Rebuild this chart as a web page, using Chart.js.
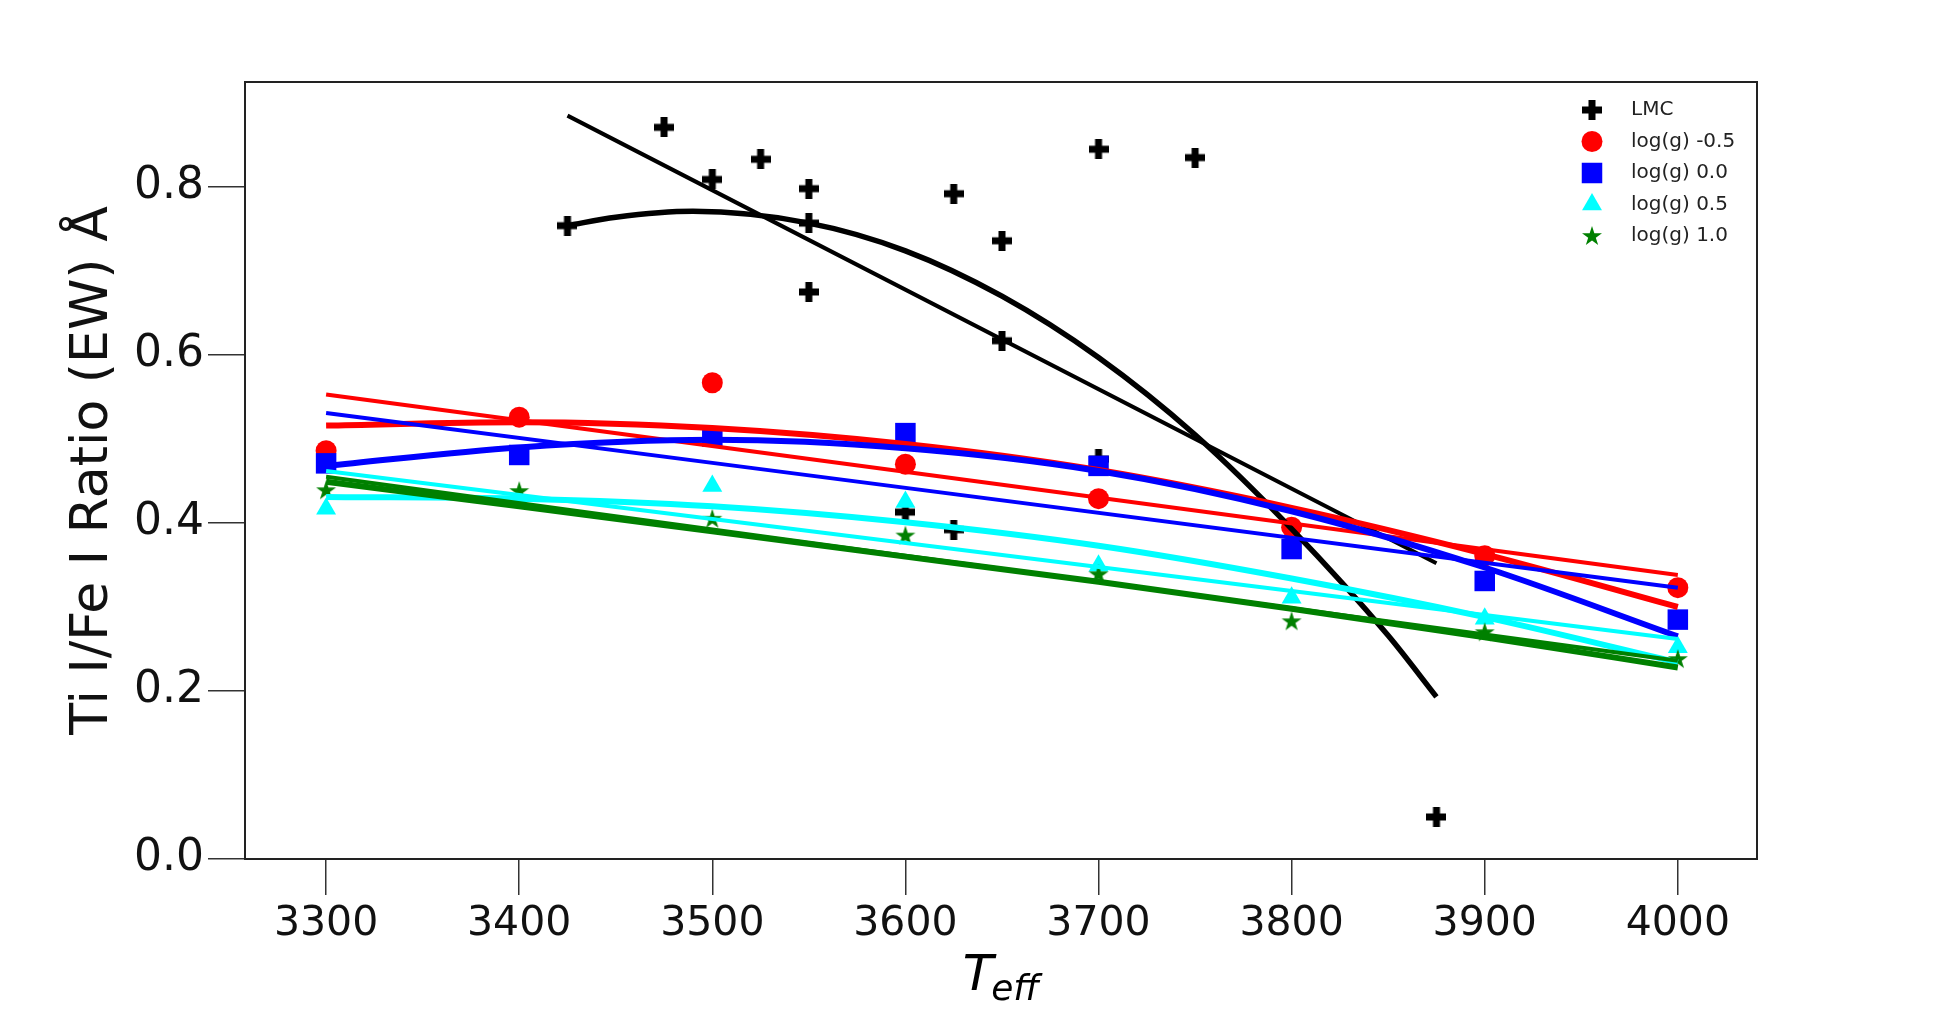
<!DOCTYPE html>
<html><head><meta charset="utf-8">
<script src="https://cdn.jsdelivr.net/npm/chart.js@4/dist/chart.umd.min.js"></script>
<style>html,body{margin:0;padding:0;background:#fff;overflow:hidden}#wrap{width:1952px;height:1012px}</style>
</head><body><div id="wrap"><canvas id="c" width="1952" height="1012"></canvas></div>
<script>
// ---- data ----
const temps = [3300, 3400, 3500, 3600, 3700, 3800, 3900, 4000];
const lmcTeff  = [3425, 3475, 3500, 3525, 3550, 3550, 3550, 3600, 3625, 3625, 3650, 3650, 3700, 3700, 3750, 3875];
const lmcRatio = [0.754, 0.871, 0.809, 0.833, 0.798, 0.757, 0.675, 0.413, 0.792, 0.392, 0.736, 0.617, 0.845, 0.476, 0.835, 0.050];
const loggM05 = [0.486, 0.526, 0.567, 0.470, 0.429, 0.395, 0.361, 0.323];
const logg00  = [0.471, 0.481, 0.503, 0.507, 0.468, 0.369, 0.331, 0.285];
const logg05  = [0.417, 0.426, 0.444, 0.425, 0.349, 0.311, 0.286, 0.252];
const logg10  = [0.439, 0.438, 0.405, 0.385, 0.339, 0.283, 0.270, 0.238];

// fit lines
const lmcLinX = [3425, 3875];
const lmcLinY = [0.885, 0.352];
const lmcQuadX = [3425, 3450, 3490, 3550, 3600, 3650, 3700, 3750, 3800, 3850, 3875];
const lmcQuadY = [0.754, 0.764, 0.771, 0.757, 0.724, 0.670, 0.597, 0.505, 0.393, 0.266, 0.193];
const linX = [3300, 4000];
const m05Lin = [0.553, 0.338];
const g00Lin = [0.531, 0.323];
const g05Lin = [0.462, 0.262];
const g10Lin = [0.455, 0.236];
const m05Quad = [0.516, 0.520, 0.513, 0.494, 0.463, 0.418, 0.363, 0.300];
const g00Quad = [0.468, 0.490, 0.499, 0.489, 0.462, 0.414, 0.347, 0.265];
const g05Quad = [0.431, 0.429, 0.420, 0.401, 0.373, 0.334, 0.288, 0.234];
const g10Quad = [0.449, 0.420, 0.390, 0.360, 0.330, 0.298, 0.264, 0.228];

const seriesLabels = ['LMC', 'log(g) -0.5', 'log(g) 0.0', 'log(g) 0.5', 'log(g) 1.0'];
const xTicks = [3300, 3400, 3500, 3600, 3700, 3800, 3900, 4000];
const yTicks = [0.0, 0.2, 0.4, 0.6, 0.8];

// ---- marker images ----
function plusMarker(){
  const c = document.createElement('canvas'); c.width = 20; c.height = 20;
  const g = c.getContext('2d'); g.fillStyle = '#000';
  g.fillRect(6.5, 0, 7, 20); g.fillRect(0, 6.5, 20, 7);
  return c;
}
function starMarker(){
  const c = document.createElement('canvas'); c.width = 22; c.height = 22;
  const g = c.getContext('2d'); g.fillStyle = '#008000';
  const cx = 11, cy = 11.5, R = 10.5, r = R * 0.382;
  g.beginPath();
  for (let i = 0; i < 10; i++) {
    const ang = -Math.PI / 2 + i * Math.PI / 5;
    const rr = i % 2 === 0 ? R : r;
    const px = cx + rr * Math.cos(ang), py = cy + rr * Math.sin(ang);
    i === 0 ? g.moveTo(px, py) : g.lineTo(px, py);
  }
  g.closePath(); g.fill();
  return c;
}
const plusImg = plusMarker();
const starImg = starMarker();

const pts = (xs, ys) => xs.map((x, i) => ({x, y: ys[i]}));

const pointSets = [
  {label: seriesLabels[0], data: pts(lmcTeff, lmcRatio), pointStyle: plusImg, color: '#000000', radius: 10},
  {label: seriesLabels[1], data: pts(temps, loggM05), pointStyle: 'circle', color: '#ff0000', radius: 10.5},
  {label: seriesLabels[2], data: pts(temps, logg00), pointStyle: 'rect', color: '#0000ff', radius: 14.5},
  {label: seriesLabels[3], data: pts(temps, logg05), pointStyle: 'triangle', color: '#00ffff', radius: 11.5},
  {label: seriesLabels[4], data: pts(temps, logg10), pointStyle: starImg, color: '#008000', radius: 10}
];
const lineSets = [
  {data: pts(lmcLinX, lmcLinY), color: '#000000', w: 4},
  {data: pts(lmcQuadX, lmcQuadY), color: '#000000', w: 5.5},
  {data: pts(linX, m05Lin), color: '#ff0000', w: 4},
  {data: pts(temps, m05Quad), color: '#ff0000', w: 6},
  {data: pts(linX, g00Lin), color: '#0000ff', w: 4},
  {data: pts(temps, g00Quad), color: '#0000ff', w: 6},
  {data: pts(linX, g05Lin), color: '#00ffff', w: 4},
  {data: pts(temps, g05Quad), color: '#00ffff', w: 6},
  {data: pts(linX, g10Lin), color: '#008000', w: 4},
  {data: pts(temps, g10Quad), color: '#008000', w: 6}
];

const datasets = [];
let drawIdx = 0;
const total = pointSets.length + lineSets.length;
pointSets.forEach(s => {
  datasets.push({
    label: s.label, data: s.data, showLine: false,
    pointStyle: s.pointStyle, pointRadius: s.radius, pointHoverRadius: s.radius,
    backgroundColor: s.color, borderColor: s.color, pointBorderWidth: 0,
    order: total - (drawIdx++), isMarkerSet: true
  });
});
lineSets.forEach(s => {
  datasets.push({
    data: s.data, showLine: true, pointRadius: 0, pointHoverRadius: 0,
    borderColor: s.color, backgroundColor: s.color, borderWidth: s.w,
    cubicInterpolationMode: 'monotone', tension: 0.4, fill: false,
    order: total - (drawIdx++)
  });
});

const decor = {
  id: 'decor',
  afterDraw(chart) {
    const {ctx, chartArea: a} = chart;
    ctx.save();
    // frame
    ctx.strokeStyle = '#222'; ctx.lineWidth = 2;
    ctx.strokeRect(a.left, a.top, a.right - a.left, a.bottom - a.top);
    // legend
    const lx = 1592, tx = 1631, y0 = 110, dy = 31.5;
    ctx.font = '20px "DejaVu Sans"'; ctx.textBaseline = 'middle'; ctx.textAlign = 'left';
    chart.data.datasets.filter(d => d.isMarkerSet).forEach((d, i) => {
      const y = y0 + i * dy;
      ctx.fillStyle = d.backgroundColor; ctx.strokeStyle = d.borderColor;
      Chart.helpers.drawPoint(ctx, {pointStyle: d.pointStyle, radius: d.pointRadius, borderWidth: 0, rotation: 0}, lx, y);
      ctx.fillStyle = '#222';
      ctx.fillText(d.label, tx, y);
    });
    // x title: T_eff
    ctx.fillStyle = '#000'; ctx.textBaseline = 'alphabetic';
    ctx.font = 'italic 50px "DejaVu Sans"';
    const wT = ctx.measureText('T').width;
    ctx.font = 'italic 36px "DejaVu Sans"';
    const wS = ctx.measureText('eff').width;
    const cx = (a.left + a.right) / 2;
    const sx = cx - (wT + wS - 2) / 2;
    ctx.font = 'italic 50px "DejaVu Sans"';
    ctx.fillText('T', sx, 990);
    ctx.font = 'italic 36px "DejaVu Sans"';
    ctx.fillText('eff', sx + wT - 2, 1000);
    ctx.restore();
  }
};

new Chart(document.getElementById('c'), {
  type: 'scatter',
  data: {datasets},
  options: {
    responsive: false, animation: false, events: [],
    layout: {padding: {left: 0, right: 195, top: 82, bottom: 0}},
    plugins: {legend: {display: false}, tooltip: {enabled: false}},
    scales: {
      x: {
        type: 'linear', min: 3258, max: 4041,
        afterFit: s => { s.height = 153; },
        afterBuildTicks: s => { s.ticks = xTicks.map(v => ({value: v})); },
        ticks: {font: {family: 'DejaVu Sans', size: 41}, color: '#111', padding: 5,
                maxRotation: 0, autoSkip: false, callback: v => String(v)},
        grid: {drawOnChartArea: false, drawTicks: true, tickLength: 36, color: '#333', lineWidth: 1.5},
        border: {display: true, color: '#222', width: 2}
      },
      y: {
        type: 'linear', min: 0, max: 0.925,
        afterFit: s => { s.width = 245; },
        afterBuildTicks: s => { s.ticks = yTicks.map(v => ({value: v})); },
        ticks: {font: {family: 'DejaVu Sans', size: 44}, color: '#111', padding: 4,
                callback: v => Number(v).toFixed(1)},
        grid: {drawOnChartArea: false, drawTicks: true, tickLength: 37, color: '#333', lineWidth: 1.5},
        border: {display: true, color: '#222', width: 2},
        title: {display: true, text: 'Ti I/Fe I Ratio (EW) Å', color: '#111',
                font: {family: 'DejaVu Sans', size: 52}, padding: {top: 62, bottom: 0}}
      }
    }
  },
  plugins: [decor]
});
</script>
</body></html>
